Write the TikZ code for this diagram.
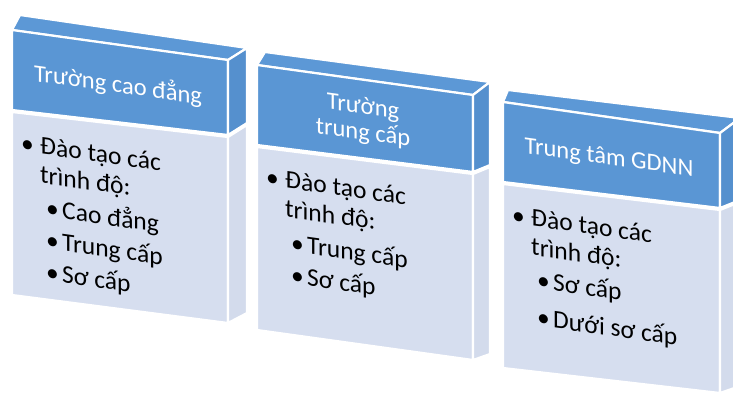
\documentclass[tikz,border=0pt]{standalone}
\usepackage{fontspec}
\setmainfont{Carlito}
\definecolor{hblue}{HTML}{5A96D4}
\definecolor{hside}{HTML}{5590CE}
\definecolor{htop}{HTML}{5C98D6}
\definecolor{bodyc}{HTML}{D6DEEF}
\definecolor{bside}{HTML}{D3DBEC}
\begin{document}
\begin{tikzpicture}[x=1pt,y=-1pt,
  face/.style={draw=white, line width=2.2pt, line join=round},
  htext/.style={text=white, font=\fontsize{24.5}{27}\selectfont, transform shape, inner sep=0},
  btext/.style={anchor=base west, font=\fontsize{25.5}{29}\selectfont, transform shape, inner sep=0, text=black}]
\useasboundingbox (0,0) rectangle (733,396);
\clip (0,0) rectangle (733,396);
% ---------- Box 1 ----------
\fill[face, fill=htop]  (12,30) -- (228,60) -- (247,48) -- (20,15) -- cycle;
\fill[face, fill=hblue] (12,30) -- (228,60) -- (228,135) -- (12,110) -- cycle;
\fill[face, fill=hside] (228,60) -- (247,48) -- (247,123) -- (228,135) -- cycle;
\fill[face, fill=bodyc] (12,112) -- (228,137) -- (228,323) -- (12,295) -- cycle;
\fill[face, fill=bside] (228,137) -- (247,125) -- (247,313) -- (228,323) -- cycle;
\begin{scope}[shift={(12,30)}, yslant=-0.139]
  \node[htext, anchor=base] (h1) at (106,48) {Trường cao đẳng};
  \node[btext] (b1a) at (9,120) {•};
  \node[btext] (t1a) at (28,120) {Đào tạo các};
  \node[btext] (t1b) at (28,149) {trình độ:};
  \node[btext] (b1c) at (34,182) {•};
  \node[btext] (t1c) at (50,182) {Cao đẳng};
  \node[btext] (b1d) at (34,214) {•};
  \node[btext] (t1d) at (50,214) {Trung cấp};
  \node[btext] (b1e) at (34,246) {•};
  \node[btext] (t1e) at (50,246) {Sơ cấp};
\end{scope}
% ---------- Box 2 ----------
\fill[face, fill=htop]  (257,65) -- (473,95) -- (490,82) -- (265,52) -- cycle;
\fill[face, fill=hblue] (257,65) -- (473,95) -- (473,172) -- (257,145) -- cycle;
\fill[face, fill=hside] (473,95) -- (490,82) -- (490,165) -- (473,172) -- cycle;
\fill[face, fill=bodyc] (257,147) -- (473,174) -- (473,360) -- (257,330) -- cycle;
\fill[face, fill=bside] (473,174) -- (490,167) -- (490,354) -- (473,360) -- cycle;
\begin{scope}[shift={(257,65)}, yslant=-0.139]
  \node[htext, anchor=base] (h2a) at (106,34) {Trường};
  \node[htext, anchor=base] (h2b) at (106,60) {trung cấp};
  \node[btext] (b2a) at (9,119) {•};
  \node[btext] (t2a) at (28,119) {Đào tạo các};
  \node[btext] (t2b) at (28,148) {trình độ:};
  \node[btext] (b2c) at (34,182) {•};
  \node[btext] (t2c) at (50,182) {Trung cấp};
  \node[btext] (b2d) at (34,214) {•};
  \node[btext] (t2d) at (50,214) {Sơ cấp};
\end{scope}
% ---------- Box 3 ----------
\fill[face, fill=htop]  (503,102) -- (720,133) -- (740,118) -- (508,90) -- cycle;
\fill[face, fill=hblue] (503,102) -- (720,133) -- (720,208) -- (503,182) -- cycle;
\fill[face, fill=hside] (720,133) -- (740,118) -- (740,200) -- (720,208) -- cycle;
\fill[face, fill=bodyc] (503,184) -- (720,210) -- (720,393) -- (503,368) -- cycle;
\fill[face, fill=bside] (720,210) -- (740,202) -- (740,386) -- (720,393) -- cycle;
\begin{scope}[shift={(503,102)}, yslant=-0.139]
  \node[htext, anchor=base] (h3) at (106,48) {Trung tâm GDNN};
  \node[btext] (b3a) at (9,120) {•};
  \node[btext] (t3a) at (28,120) {Đào tạo các};
  \node[btext] (t3b) at (28,149) {trình độ:};
  \node[btext] (b3c) at (34,182) {•};
  \node[btext] (t3c) at (50,182) {Sơ cấp};
  \node[btext] (b3d) at (34,219) {•};
  \node[btext] (t3d) at (50,219) {Dưới sơ cấp};
\end{scope}
\end{tikzpicture}
\end{document}
